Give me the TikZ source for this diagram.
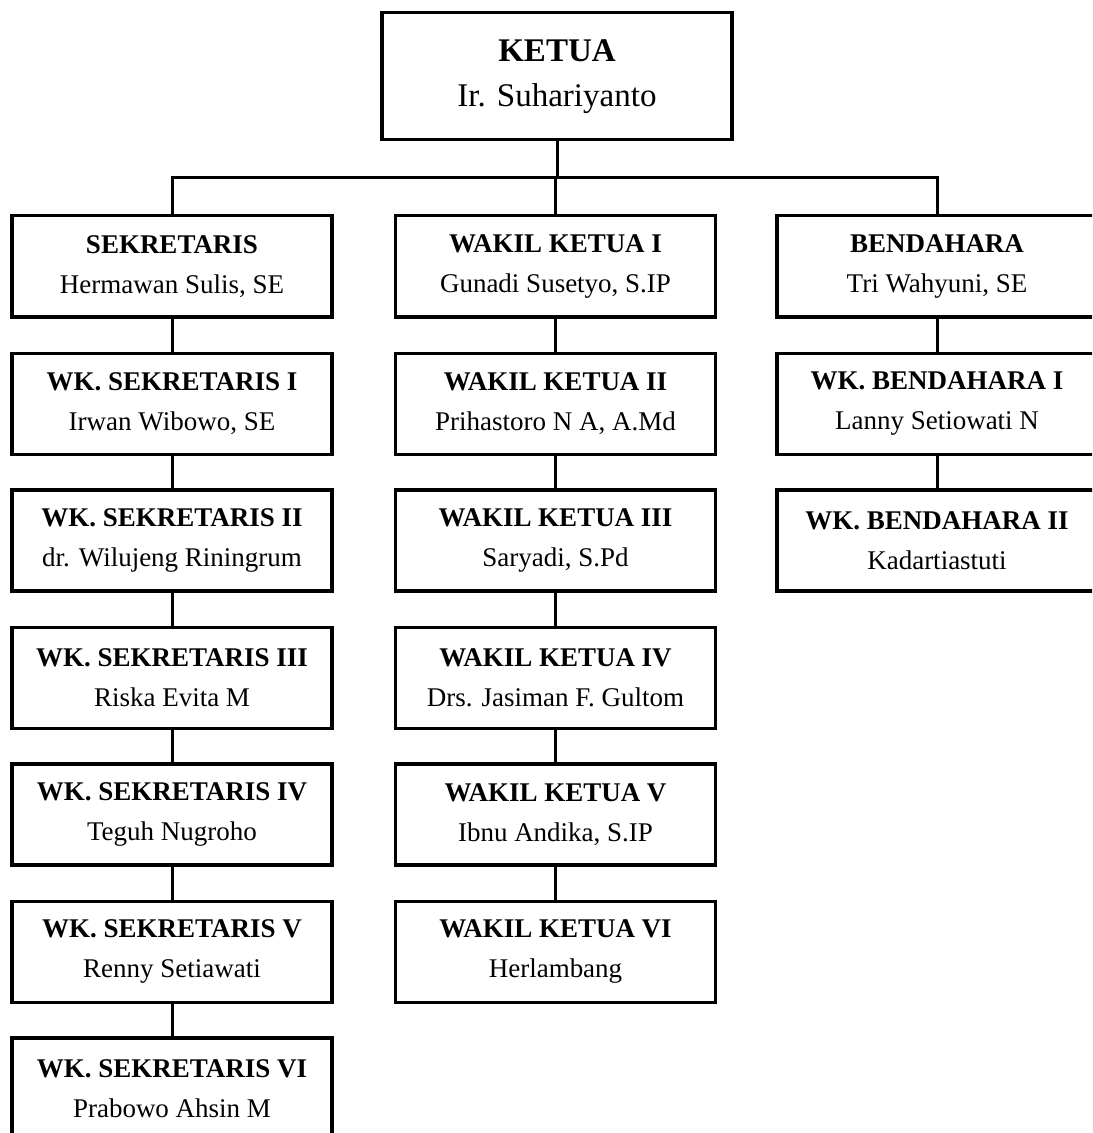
\documentclass[tikz,border=0pt]{standalone}
\usepackage{fontspec}
\setmainfont{Liberation Serif}
\usepackage{tikz}

\begin{document}
\begin{tikzpicture}[
    box/.style={
        draw,
        rectangle,
        align=center,
        line width=0.08cm,
        inner sep=0pt,
        minimum width=8cm,
        minimum height=2.525cm,
        font={\fontsize{19.2pt}{28.5pt}\selectfont}
    },
    topbox/.style={
        box,
        minimum width=8.75cm,
        minimum height=3.175cm,
        font={\fontsize{23.5pt}{32pt}\selectfont}
    },
    line/.style={line width=0.075cm}
]

% Page frame
\useasboundingbox (0,0) rectangle (27.3,-28.325);
\fill[white] (0,0) rectangle (27.3,-28.325);
\clip (0,0) rectangle (27.3,-28.325);

% Top box
\node[topbox] (ketua) at (13.925,-1.91) {\textbf{KETUA}\\Ir. Suhariyanto};

% Left column
\node[box] (sek) at (4.3,-6.66) {\textbf{SEKRETARIS}\\Hermawan Sulis, SE};
\node[box] (wksek1) at (4.3,-10.09) {\textbf{WK. SEKRETARIS I}\\Irwan Wibowo, SE};
\node[box] (wksek2) at (4.3,-13.51) {\textbf{WK. SEKRETARIS II}\\dr. Wilujeng Riningrum};
\node[box] (wksek3) at (4.3,-16.94) {\textbf{WK. SEKRETARIS III}\\Riska Evita M};
\node[box] (wksek4) at (4.3,-20.36) {\textbf{WK. SEKRETARIS IV}\\Teguh Nugroho};
\node[box] (wksek5) at (4.3,-23.79) {\textbf{WK. SEKRETARIS V}\\Renny Setiawati};
\node[box] (wksek6) at (4.3,-27.21) {\textbf{WK. SEKRETARIS VI}\\Prabowo Ahsin M};

% Middle column
\node[box] (wk1) at (13.8875,-6.66) {\textbf{WAKIL KETUA I}\\Gunadi Susetyo, S.IP};
\node[box] (wk2) at (13.8875,-10.09) {\textbf{WAKIL KETUA II}\\Prihastoro N A, A.Md};
\node[box] (wk3) at (13.8875,-13.51) {\textbf{WAKIL KETUA III}\\Saryadi, S.Pd};
\node[box] (wk4) at (13.8875,-16.94) {\textbf{WAKIL KETUA IV}\\Drs. Jasiman F. Gultom};
\node[box] (wk5) at (13.8875,-20.36) {\textbf{WAKIL KETUA V}\\Ibnu Andika, S.IP};
\node[box] (wk6) at (13.8875,-23.79) {\textbf{WAKIL KETUA VI}\\Herlambang};

% Right column
\node[box] (bend) at (23.425,-6.66) {\textbf{BENDAHARA}\\Tri Wahyuni, SE};
\node[box] (wkbend1) at (23.425,-10.09) {\textbf{WK. BENDAHARA I}\\Lanny Setiowati N};
\node[box] (wkbend2) at (23.425,-13.51) {\textbf{WK. BENDAHARA II}\\Kadartiastuti};

% Lines: top box to columns
\coordinate (bus) at (13.925,-4.45);
\draw[line] (ketua.south) -- (bus);
\draw[line] (sek.north) |- (bus);
\draw[line] (wk1.north) |- (bus);
\draw[line] (bend.north) |- (bus);

% Lines: left column
\draw[line] (sek) -- (wksek1);
\draw[line] (wksek1) -- (wksek2);
\draw[line] (wksek2) -- (wksek3);
\draw[line] (wksek3) -- (wksek4);
\draw[line] (wksek4) -- (wksek5);
\draw[line] (wksek5) -- (wksek6);

% Lines: middle column
\draw[line] (wk1) -- (wk2);
\draw[line] (wk2) -- (wk3);
\draw[line] (wk3) -- (wk4);
\draw[line] (wk4) -- (wk5);
\draw[line] (wk5) -- (wk6);

% Lines: right column
\draw[line] (bend) -- (wkbend1);
\draw[line] (wkbend1) -- (wkbend2);

\end{tikzpicture}
\end{document}
